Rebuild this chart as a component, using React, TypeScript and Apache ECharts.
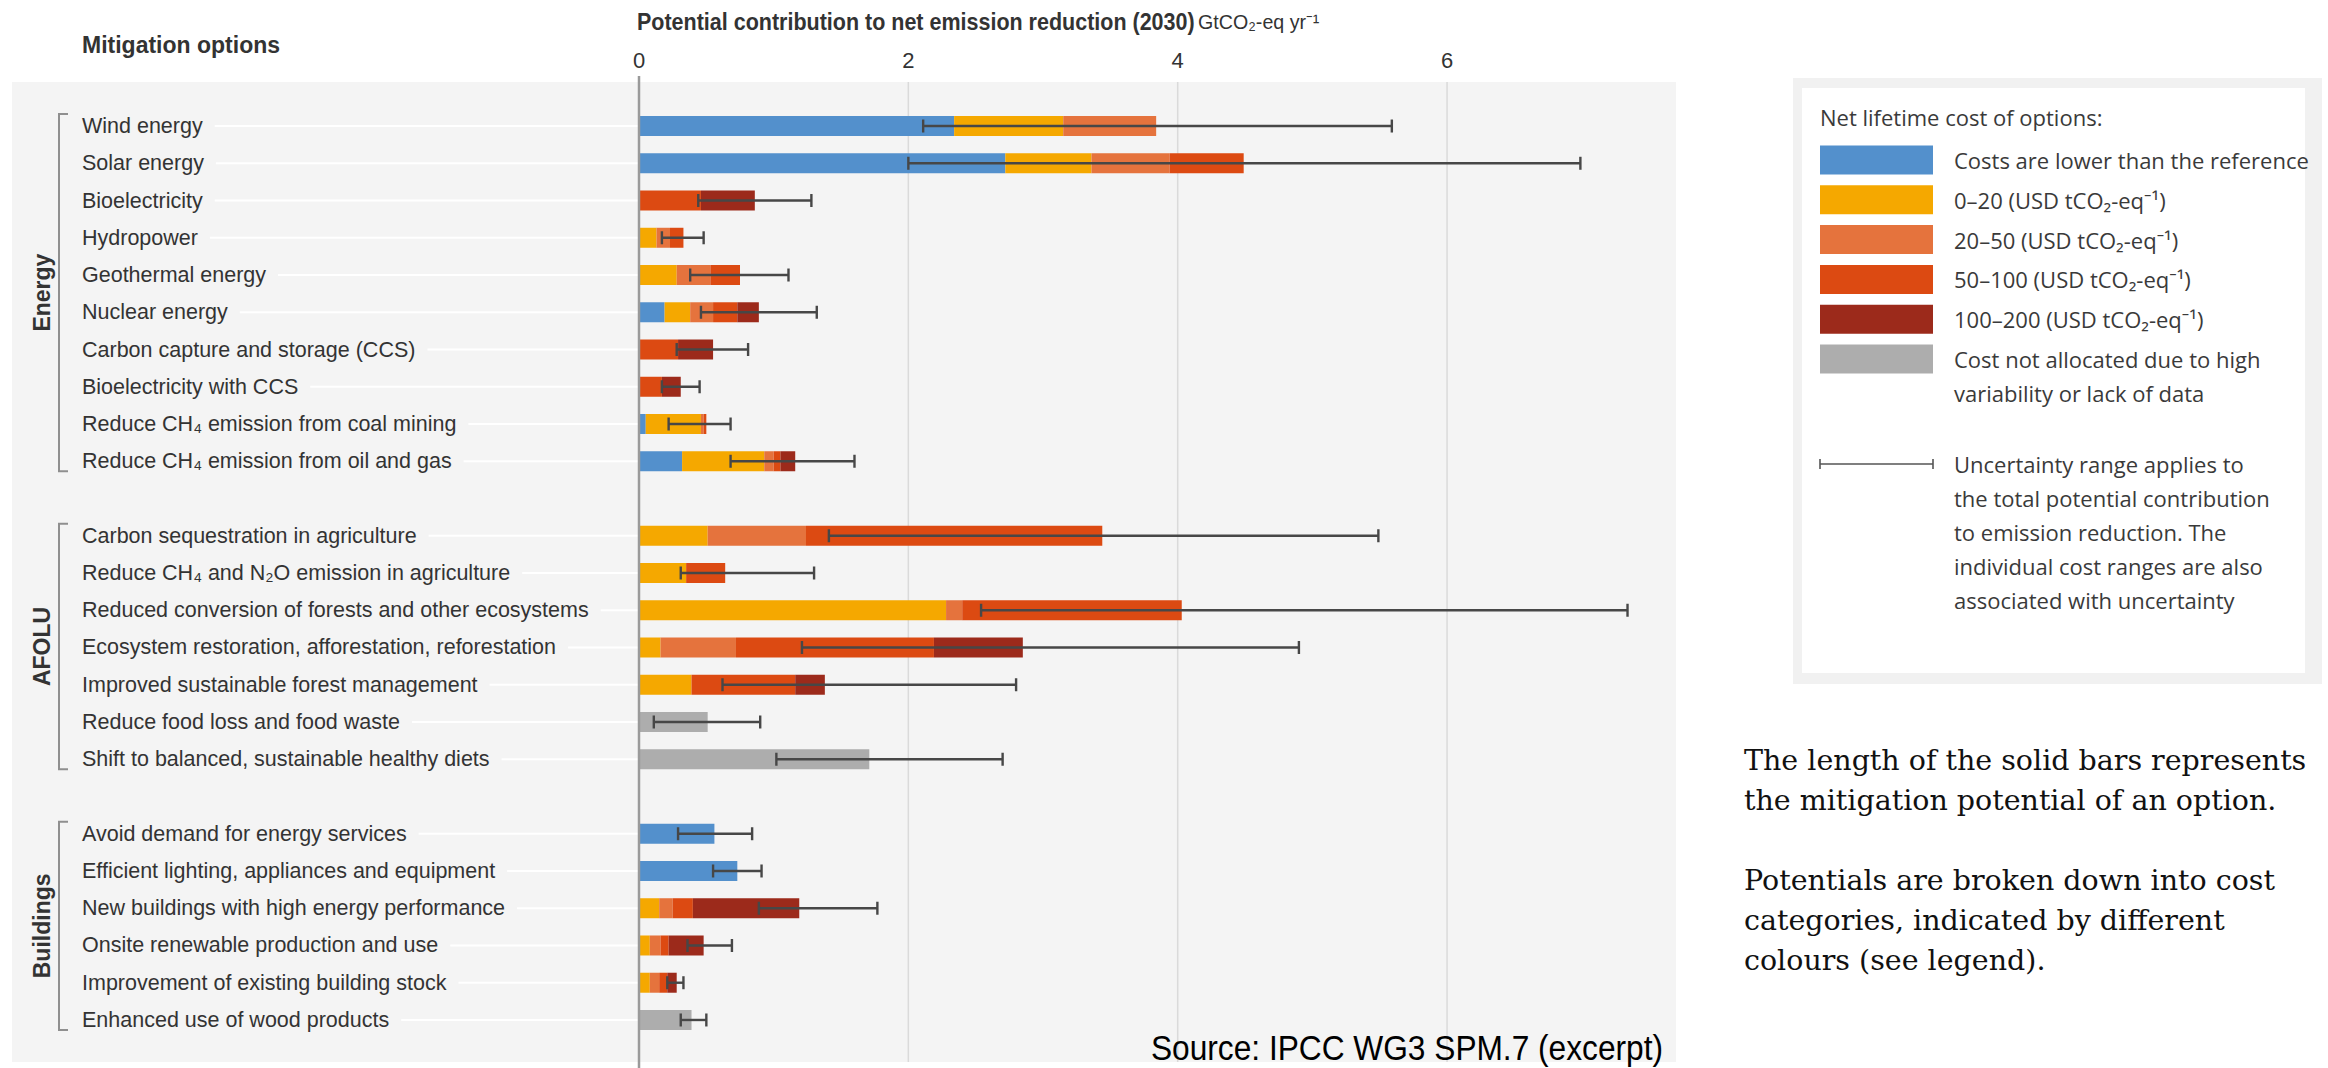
import React, { useEffect, useRef } from "react";
import * as echarts from "echarts";

// ---------------- DATA ----------------
const categories = [
  "Wind energy",
  "Solar energy",
  "Bioelectricity",
  "Hydropower",
  "Geothermal energy",
  "Nuclear energy",
  "Carbon capture and storage (CCS)",
  "Bioelectricity with CCS",
  "Reduce CH₄ emission from coal mining",
  "Reduce CH₄ emission from oil and gas",
  "",
  "Carbon sequestration in agriculture",
  "Reduce CH₄ and N₂O emission in agriculture",
  "Reduced conversion of forests and other ecosystems",
  "Ecosystem restoration, afforestation, reforestation",
  "Improved sustainable forest management",
  "Reduce food loss and food waste",
  "Shift to balanced, sustainable healthy diets",
  " ",
  "Avoid demand for energy services",
  "Efficient lighting, appliances and equipment",
  "New buildings with high energy performance",
  "Onsite renewable production and use",
  "Improvement of existing building stock",
  "Enhanced use of wood products",
];

// segment lengths (GtCO2-eq/yr) per cost category
const lowerThanReference = [2.34, 2.72, 0, 0, 0, 0.19, 0, 0, 0.05, 0.32, 0, 0, 0, 0, 0, 0, 0, 0, 0, 0.56, 0.73, 0, 0, 0, 0];
const cost0to20 = [0.81, 0.64, 0, 0.13, 0.28, 0.19, 0, 0, 0.41, 0.61, 0, 0.51, 0.35, 2.28, 0.16, 0.39, 0, 0, 0, 0, 0, 0.15, 0.08, 0.08, 0];
const cost20to50 = [0.69, 0.58, 0, 0.1, 0.25, 0.17, 0, 0, 0.02, 0.07, 0, 0.73, 0, 0.12, 0.56, 0, 0, 0, 0, 0, 0, 0.1, 0.08, 0.07, 0];
const cost50to100 = [0, 0.55, 0.46, 0.1, 0.22, 0.18, 0.29, 0.17, 0.02, 0.05, 0, 2.2, 0.29, 1.63, 1.47, 0.77, 0, 0, 0, 0, 0, 0.15, 0.06, 0.06, 0];
const cost100to200 = [0, 0, 0.4, 0, 0, 0.16, 0.26, 0.14, 0, 0.11, 0, 0, 0, 0, 0.66, 0.22, 0, 0, 0, 0, 0, 0.79, 0.26, 0.07, 0];
const notAllocated = [0, 0, 0, 0, 0, 0, 0, 0, 0, 0, 0, 0, 0, 0, 0, 0, 0.51, 1.71, 0, 0, 0, 0, 0, 0, 0.39];

// uncertainty ranges
const errorLow = [2.11, 2.0, 0.44, 0.17, 0.38, 0.46, 0.28, 0.17, 0.22, 0.68, null, 1.41, 0.31, 2.54, 1.21, 0.62, 0.11, 1.02, null, 0.29, 0.55, 0.89, 0.36, 0.21, 0.31];
const errorHigh = [5.59, 6.99, 1.28, 0.48, 1.11, 1.32, 0.81, 0.45, 0.68, 1.6, null, 5.49, 1.3, 7.34, 4.9, 2.8, 0.9, 2.7, null, 0.84, 0.91, 1.77, 0.69, 0.33, 0.5];

const xTickValues = [0, 2, 4, 6];
const xMax = 7.7;

const groups = [
  { name: "Energy", first: 0, last: 9 },
  { name: "AFOLU", first: 11, last: 17 },
  { name: "Buildings", first: 19, last: 24 },
];

const seriesNames = [
  "Costs are lower than the reference",
  "0–20 (USD tCO₂-eq⁻¹)",
  "20–50 (USD tCO₂-eq⁻¹)",
  "50–100 (USD tCO₂-eq⁻¹)",
  "100–200 (USD tCO₂-eq⁻¹)",
  "Cost not allocated due to high\nvariability or lack of data",
];
const seriesValues = [lowerThanReference, cost0to20, cost20to50, cost50to100, cost100to200, notAllocated];
const seriesColors = ["#5390cc", "#f5a800", "#e5733d", "#dc4a12", "#9c2a1b", "#adadad"];

const legendTitle = "Net lifetime cost of options:";
const uncertaintyText =
  "Uncertainty range applies to\nthe total potential contribution\nto emission reduction. The\nindividual cost ranges are also\nassociated with uncertainty";
const noteText =
  "The length of the solid bars represents\nthe mitigation potential of an option.\n\nPotentials are broken down into cost\ncategories, indicated by different\ncolours (see legend).";
const sourceText = "Source: IPCC WG3 SPM.7 (excerpt)";
const axisTitleBold = "Potential contribution to net emission reduction (2030)";
const axisTitleUnit = "GtCO₂-eq yr⁻¹";
const optionsHeader = "Mitigation options";

// ---------------- STYLE ----------------
const SANS = "'Liberation Sans', Arial, sans-serif";
const LEGEND_FONT = "'Open Sans', 'Noto Sans', sans-serif";
const SERIF = "'DejaVu Serif', serif";
const BG = "#f4f4f4";
const TEXT = "#333333";
const LABEL_SIZE = 21.5;
const LABEL_X = 82;

export default function App() {
  const ref = useRef<HTMLDivElement>(null);

  useEffect(() => {
    document.body.style.margin = "0";
    document.body.style.overflow = "hidden";
    const chart = echarts.init(ref.current as HTMLDivElement, null, { renderer: "svg" });

    const barSeries = seriesNames.map((name, k) => ({
      name,
      type: "bar",
      stack: "total",
      barWidth: 20,
      itemStyle: { color: seriesColors[k] },
      data: seriesValues[k],
      z: 2,
    }));

    const errData = categories
      .map((c, i) => (errorLow[i] == null ? null : [errorLow[i], errorHigh[i], i]))
      .filter((d) => d !== null);

    const errorSeries = {
      name: "Uncertainty range",
      type: "custom",
      z: 5,
      encode: { x: [0, 1], y: 2 },
      data: errData,
      renderItem: (params: any, api: any) => {
        const row = api.value(2);
        const p0 = api.coord([api.value(0), row]);
        const p1 = api.coord([api.value(1), row]);
        const h = 6.5;
        const st = { stroke: "#474747", lineWidth: 2.4 };
        return {
          type: "group",
          children: [
            { type: "line", shape: { x1: p0[0], y1: p0[1], x2: p1[0], y2: p1[1] }, style: st },
            { type: "line", shape: { x1: p0[0], y1: p0[1] - h, x2: p0[0], y2: p0[1] + h }, style: st },
            { type: "line", shape: { x1: p1[0], y1: p1[1] - h, x2: p1[0], y2: p1[1] + h }, style: st },
          ],
        };
      },
    };

    const gridLeft = 639;

    chart.setOption({
      animation: false,
      backgroundColor: "#ffffff",
      grid: { left: gridLeft, right: 652, top: 107.4, bottom: 29.4, containLabel: false },
      xAxis: {
        type: "value",
        position: "top",
        min: 0,
        max: xMax,
        interval: 2,
        axisLine: { show: false },
        axisTick: { show: false },
        splitLine: { show: false },
        axisLabel: {
          showMaxLabel: false,
          margin: 36,
          fontSize: 22,
          fontFamily: SANS,
          color: TEXT,
          formatter: (v: number) => (xTickValues.includes(v) ? String(v) : ""),
        },
      },
      yAxis: {
        type: "category",
        inverse: true,
        data: categories,
        axisLine: { show: false },
        axisTick: { show: false },
        axisLabel: {
          interval: 0,
          align: "left",
          margin: gridLeft - LABEL_X,
          fontSize: LABEL_SIZE,
          fontFamily: SANS,
          color: TEXT,
        },
      },
      series: [...barSeries, errorSeries],
    });

    const xPix = (v: number) => chart.convertToPixel({ xAxisIndex: 0 }, v) as number;
    const yPix = (i: number) => chart.convertToPixel({ yAxisIndex: 0 }, categories[i]) as number;

    const ctx = document.createElement("canvas").getContext("2d") as CanvasRenderingContext2D;
    ctx.font = `${LABEL_SIZE}px 'Liberation Sans', Arial, sans-serif`;

    const graphics: any[] = [];
    // panel background
    graphics.push({
      type: "rect",
      z: -10,
      shape: { x: 12, y: 82, width: xPix(xMax) - 12, height: 980 },
      style: { fill: BG },
    });
    // white leader lines from label to axis
    categories.forEach((c, i) => {
      if (c.trim() === "") return;
      const w = ctx.measureText(c).width;
      const y = yPix(i);
      graphics.push({
        type: "line",
        z: -6,
        shape: { x1: LABEL_X + w + 12, y1: y, x2: xPix(0), y2: y },
        style: { stroke: "#ffffff", lineWidth: 2 },
      });
    });
    // vertical grid lines
    xTickValues
      .filter((v) => v !== 0)
      .forEach((v) => {
        graphics.push({
          type: "line",
          z: -5,
          shape: { x1: xPix(v), y1: 82, x2: xPix(v), y2: 1062 },
          style: { stroke: "#dadada", lineWidth: 1.5 },
        });
      });
    // zero axis line
    graphics.push({
      type: "line",
      z: 4,
      shape: { x1: xPix(0), y1: 76, x2: xPix(0), y2: 1068 },
      style: { stroke: "#9a9a9a", lineWidth: 2.5 },
    });
    // group brackets and labels
    groups.forEach((g) => {
      const top = yPix(g.first) - 12;
      const bot = yPix(g.last) + 10;
      const st = { stroke: "#8f8f8f", lineWidth: 2, fill: null };
      graphics.push({
        type: "polyline",
        z: 1,
        shape: { points: [[68, top], [59, top], [59, bot], [68, bot]] },
        style: st,
      });
      graphics.push({
        type: "text",
        z: 1,
        x: 42,
        y: (top + bot) / 2,
        rotation: Math.PI / 2,
        style: {
          text: g.name,
          fontSize: 23,
          fontWeight: "bold",
          fontFamily: SANS,
          fill: TEXT,
          align: "center",
          verticalAlign: "middle",
        },
      });
    });
    // headers
    graphics.push({
      type: "text",
      x: 82,
      y: 45,
      style: { text: optionsHeader, fontSize: 23, fontWeight: "bold", fontFamily: SANS, fill: TEXT, verticalAlign: "middle" },
    });
    graphics.push({
      type: "text",
      x: 637,
      y: 22,
      scaleX: 0.935,
      style: {
        text: `{b|${axisTitleBold}} {r|${axisTitleUnit}}`,
        verticalAlign: "middle",
        rich: {
          b: { fontSize: 23, fontWeight: "bold", fontFamily: SANS, fill: TEXT },
          r: { fontSize: 21, fontFamily: SANS, fill: TEXT },
        },
      },
    });
    // legend panel
    graphics.push({ type: "rect", shape: { x: 1793, y: 78, width: 529, height: 606 }, style: { fill: "#f1f1f1" } });
    graphics.push({ type: "rect", shape: { x: 1802, y: 88, width: 503, height: 585 }, style: { fill: "#ffffff" } });
    graphics.push({
      type: "text",
      x: 1820,
      y: 117,
      style: { text: legendTitle, fontSize: 22, fontFamily: LEGEND_FONT, fill: "#3a3a3a", verticalAlign: "middle" },
    });
    seriesNames.forEach((name, k) => {
      const cy = 160 + k * 39.8;
      graphics.push({
        type: "rect",
        shape: { x: 1820, y: cy - 14.5, width: 113, height: 29 },
        style: { fill: seriesColors[k] },
      });
      graphics.push({
        type: "text",
        x: 1954,
        y: cy - 17,
        style: {
          text: name,
          fontSize: 22,
          lineHeight: 34,
          fontFamily: LEGEND_FONT,
          fill: "#3a3a3a",
          verticalAlign: "top",
        },
      });
    });
    const uy = 464;
    const ust = { stroke: "#555555", lineWidth: 1.6 };
    graphics.push({ type: "line", shape: { x1: 1820, y1: uy, x2: 1933, y2: uy }, style: ust });
    graphics.push({ type: "line", shape: { x1: 1820, y1: uy - 5, x2: 1820, y2: uy + 5 }, style: ust });
    graphics.push({ type: "line", shape: { x1: 1933, y1: uy - 5, x2: 1933, y2: uy + 5 }, style: ust });
    graphics.push({
      type: "text",
      x: 1954,
      y: uy - 17,
      style: { text: uncertaintyText, fontSize: 22, lineHeight: 34, fontFamily: LEGEND_FONT, fill: "#3a3a3a", verticalAlign: "top" },
    });
    // explanatory note
    graphics.push({
      type: "text",
      x: 1744,
      y: 740,
      style: { text: noteText, fontSize: 28.5, lineHeight: 40, fontFamily: SERIF, fill: "#111111", verticalAlign: "top" },
    });
    // source
    graphics.push({
      type: "text",
      z: 6,
      x: 1663,
      y: 1047,
      scaleX: 0.88,
      style: { text: sourceText, fontSize: 36, fontFamily: SANS, fill: "#000000", align: "right", verticalAlign: "middle" },
    });

    chart.setOption({ graphic: graphics });

    return () => chart.dispose();
  }, []);

  return <div ref={ref} style={{ position: "absolute", left: 0, top: 0, width: 2328, height: 1068 }} />;
}
